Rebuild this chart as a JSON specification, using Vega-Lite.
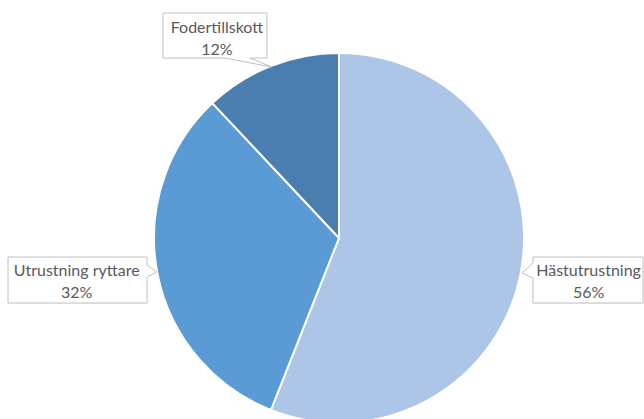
{
  "$schema": "https://vega.github.io/schema/vega-lite/v6.json",
  "width": 610,
  "height": 362,
  "autosize": {"type": "none"},
  "padding": {"left": 34, "top": 57, "right": 0, "bottom": 0},
  "background": "white",
  "config": {"view": {"stroke": null}},
  "data": {"values": [
    {"cat": "Hästutrustning", "value": 56},
    {"cat": "Utrustning ryttare", "value": 32},
    {"cat": "Fodertillskott", "value": 12}
  ]},
  "transform": [
    {"window": [{"op": "row_number", "as": "idx"}]},
    {"joinaggregate": [{"op": "sum", "field": "value", "as": "total"}]},
    {"window": [{"op": "sum", "field": "value", "as": "cum"}], "sort": [{"field": "idx"}], "frame": [null, 0]},
    {"calculate": "2*PI*(datum.cum - datum.value/2)/datum.total", "as": "mid"},
    {"calculate": "250*sin(datum.mid)", "as": "lx"},
    {"calculate": "250*cos(datum.mid)", "as": "ly"},
    {"calculate": "datum.cat + '\\n' + format(datum.value/datum.total, '.0%')", "as": "lbl"}
  ],
  "layer": [
    {
      "mark": {"type": "arc", "radius": 185, "stroke": "white", "strokeWidth": 2},
      "encoding": {
        "theta": {"field": "value", "type": "quantitative", "stack": true},
        "order": {"field": "idx", "type": "quantitative"},
        "color": {"field": "cat", "type": "nominal", "legend": null,
          "scale": {"domain": ["Hästutrustning", "Utrustning ryttare", "Fodertillskott"],
                    "range": ["#adc5e6", "#5b9bd5", "#4a7eb1"]}}
      }
    },
    {
      "transform": [{"filter": "datum.cat == 'Hästutrustning'"}],
      "layer": [
        {
          "mark": {"type": "point", "filled": true, "fill": "white", "stroke": "#bfbfbf", "strokeWidth": 1, "opacity": 1, "size": 10000,
            "shape": "M-1.1,-0.46L1.1,-0.46L1.1,0.46L-1.1,0.46L-1.1,-0.04L-1.32,-0.14L-1.1,-0.34Z"},
          "encoding": {
            "x": {"field": "lx", "type": "quantitative", "axis": null, "scale": {"domain": [-305, 305], "nice": false, "zero": false}},
            "y": {"field": "ly", "type": "quantitative", "axis": null, "scale": {"domain": [-181, 181], "nice": false, "zero": false}},
            "xOffset": {"value": 3.4},
            "yOffset": {"value": -4.8}
          }
        },
        {
          "mark": {"type": "text", "align": "center", "baseline": "alphabetic", "font": "Lato", "fontSize": 16, "color": "#595959", "lineBreak": "\n", "lineHeight": 22},
          "encoding": {
            "x": {"field": "lx", "type": "quantitative"},
            "y": {"field": "ly", "type": "quantitative"},
            "xOffset": {"value": 4},
            "yOffset": {"value": -9.1},
            "text": {"field": "lbl"}
          }
        }
      ]
    },
    {
      "transform": [{"filter": "datum.cat == 'Utrustning ryttare'"}],
      "layer": [
        {
          "mark": {"type": "point", "filled": true, "fill": "white", "stroke": "#bfbfbf", "strokeWidth": 1, "opacity": 1, "size": 10000,
            "shape": "M-1.39,-0.46L1.39,-0.46L1.39,-0.3L1.59,-0.16L1.39,-0.06L1.39,0.46L-1.39,0.46Z"},
          "encoding": {
            "x": {"field": "lx", "type": "quantitative"},
            "y": {"field": "ly", "type": "quantitative"},
            "xOffset": {"value": -15.9},
            "yOffset": {"value": -4.8}
          }
        },
        {
          "mark": {"type": "text", "align": "center", "baseline": "alphabetic", "font": "Lato", "fontSize": 16, "color": "#595959", "lineBreak": "\n", "lineHeight": 22},
          "encoding": {
            "x": {"field": "lx", "type": "quantitative"},
            "y": {"field": "ly", "type": "quantitative"},
            "xOffset": {"value": -16.7},
            "yOffset": {"value": -8.6},
            "text": {"field": "lbl"}
          }
        }
      ]
    },
    {
      "transform": [{"filter": "datum.cat == 'Fodertillskott'"}],
      "layer": [
        {
          "mark": {"type": "point", "filled": true, "fill": "white", "stroke": "#bfbfbf", "strokeWidth": 1, "opacity": 1, "size": 10000,
            "shape": "M-1.04,-0.45L1.04,-0.45L1.04,0.45L0.7,0.45L1.14,0.63L0.2,0.45L-1.04,0.45Z"},
          "encoding": {
            "x": {"field": "lx", "type": "quantitative"},
            "y": {"field": "ly", "type": "quantitative"},
            "xOffset": {"value": -32},
            "yOffset": {"value": 30}
          }
        },
        {
          "mark": {"type": "text", "align": "center", "baseline": "alphabetic", "font": "Lato", "fontSize": 16, "color": "#595959", "lineBreak": "\n", "lineHeight": 22},
          "encoding": {
            "x": {"field": "lx", "type": "quantitative"},
            "y": {"field": "ly", "type": "quantitative"},
            "xOffset": {"value": -30},
            "yOffset": {"value": 27.1},
            "text": {"field": "lbl"}
          }
        }
      ]
    }
  ]
}
